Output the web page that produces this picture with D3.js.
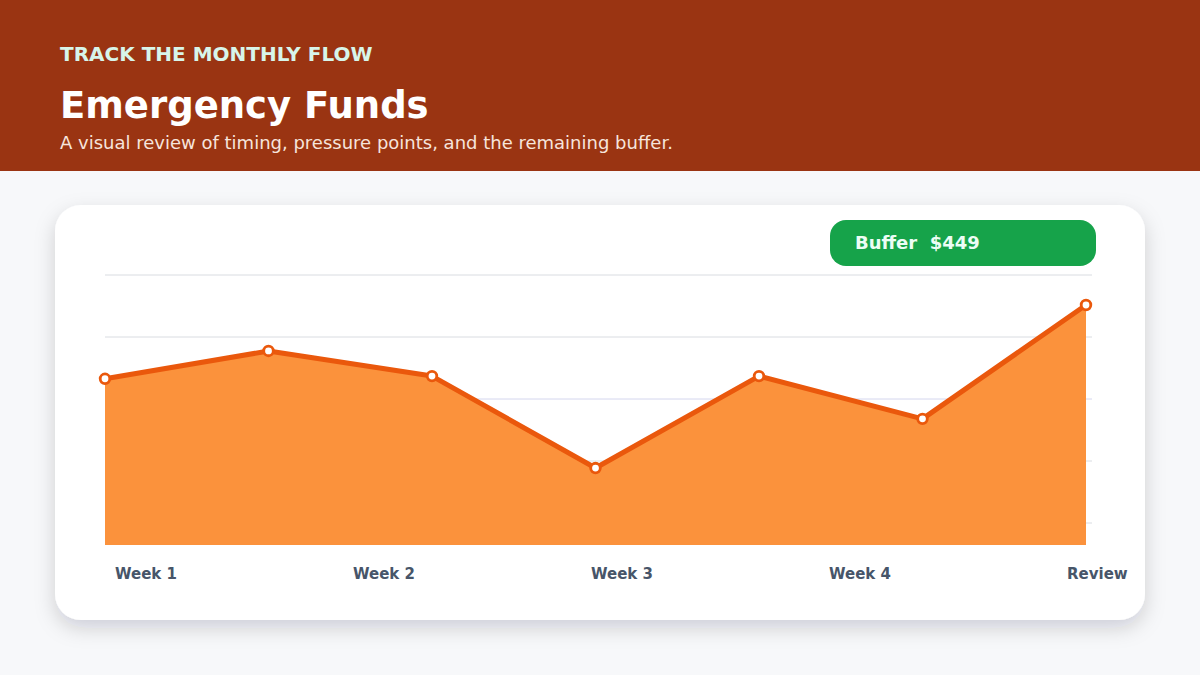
<!DOCTYPE html>
<html>
<head>
<meta charset="utf-8">
<script src="https://cdn.jsdelivr.net/npm/d3@7"></script>
<style>
  html, body { margin: 0; padding: 0; background: #f7f8fa; }
  body { width: 1200px; height: 675px; overflow: hidden; font-family: "DejaVu Sans", sans-serif; }
</style>
</head>
<body>
<svg id="chart" width="1200" height="675"></svg>
<script>
// chart data
var points = ["p1", "p2", "p3", "p4", "p5", "p6", "p7"];
var balance = [311, 363, 316, 144, 316, 236, 449];
var axisLabels = ["Week 1", "Week 2", "Week 3", "Week 4", "Review"];
var gridLines = [0, 1, 2, 3, 4];
var bufferLabel = "Buffer  $449";

var W = 1200, H = 675;
var svg = d3.select('#chart');

var defs = svg.append('defs');
var shadow = defs.append('filter').attr('id', 'shadow')
  .attr('x', '-10%').attr('y', '-10%').attr('width', '120%').attr('height', '130%');
shadow.append('feDropShadow').attr('dx', 0).attr('dy', 8).attr('stdDeviation', 10)
  .attr('flood-color', '#0f172a').attr('flood-opacity', 0.17);

// background + header band
svg.append('rect').attr('width', W).attr('height', H).attr('fill', '#f7f8fa');
svg.append('rect').attr('width', W).attr('height', 171).attr('fill', '#9a3412');

svg.append('text').attr('x', 60).attr('y', 61)
  .attr('font-size', 20).attr('font-weight', 'bold').attr('fill', '#d7f5ea')
  .text('TRACK THE MONTHLY FLOW');
svg.append('text').attr('x', 60).attr('y', 118)
  .attr('font-size', 37).attr('font-weight', 'bold').attr('fill', '#ffffff')
  .text('Emergency Funds');
svg.append('text').attr('x', 60).attr('y', 149)
  .attr('font-size', 18).attr('fill', '#f6e4dc')
  .text('A visual review of timing, pressure points, and the remaining buffer.');

// card
svg.append('rect').attr('x', 55).attr('y', 205).attr('width', 1090).attr('height', 415)
  .attr('rx', 26).attr('fill', '#ffffff').attr('filter', 'url(#shadow)');

// scales
var x = d3.scalePoint().domain(points).range([105, 1086]);
var y = d3.scaleLinear().domain([0, d3.max(balance) * 1.125]).range([545, 275]);
var gy = d3.scaleLinear().domain([0, 4]).range([275, 523]);
var lx = d3.scalePoint().domain(axisLabels).range([115, 1067]);

// grid
svg.append('g').selectAll('line').data(gridLines).enter().append('line')
  .attr('x1', 105).attr('x2', 1092)
  .attr('y1', function(d) { return gy(d); })
  .attr('y2', function(d) { return gy(d); })
  .attr('stroke', function(d) { return d === 2 ? '#d4d6ee' : '#d9dce1'; })
  .attr('stroke-width', 1);

var data = balance.map(function(v, i) { return { k: points[i], v: v }; });

var area = d3.area()
  .x(function(d) { return x(d.k); })
  .y0(y(0))
  .y1(function(d) { return y(d.v); });
var line = d3.line()
  .x(function(d) { return x(d.k); })
  .y(function(d) { return y(d.v); });

svg.append('path').datum(data).attr('d', area).attr('fill', '#fb923c');
svg.append('path').datum(data).attr('d', line)
  .attr('fill', 'none').attr('stroke', '#ea580c').attr('stroke-width', 5)
  .attr('stroke-linejoin', 'round');

svg.append('g').selectAll('circle').data(data).enter().append('circle')
  .attr('cx', function(d) { return x(d.k); })
  .attr('cy', function(d) { return y(d.v); })
  .attr('r', 4.8)
  .attr('fill', '#ffffff').attr('stroke', '#ea580c').attr('stroke-width', 2.8);

// x labels
svg.append('g').selectAll('text').data(axisLabels).enter().append('text')
  .attr('x', function(d) { return lx(d); })
  .attr('y', 579)
  .attr('font-size', 15).attr('font-weight', 'bold').attr('fill', '#475569')
  .text(function(d) { return d; });

// buffer badge
svg.append('rect').attr('x', 830).attr('y', 220).attr('width', 266).attr('height', 46)
  .attr('rx', 16).attr('fill', '#16a34a');
svg.append('text').attr('x', 855).attr('y', 249)
  .attr('font-size', 18).attr('font-weight', 'bold').attr('fill', '#ecfdf5')
  .attr('xml:space', 'preserve').style('white-space', 'pre')
  .text(bufferLabel);
</script>
</body>
</html>
